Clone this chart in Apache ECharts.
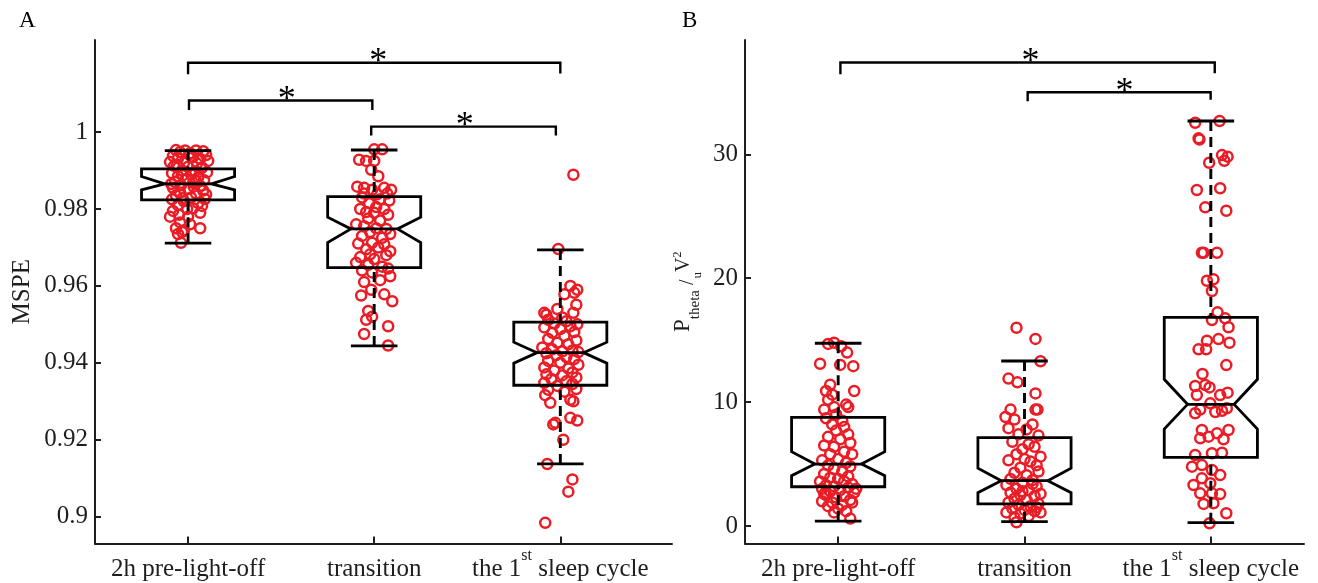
<!DOCTYPE html>
<html>
<head>
<meta charset="utf-8">
<script src="https://cdn.jsdelivr.net/npm/echarts@6/dist/echarts.min.js"></script>
<style>html,body{margin:0;padding:0;background:#fff;}#c{width:1318px;height:583px;}</style>
</head>
<body>
<div id="c"></div>
<script>
// ---------- data ----------
const categories = ['2h pre-light-off', 'transition', 'the 1st sleep cycle'];
const catPositions = [1, 2, 3];
const yTicksA = [0.9, 0.92, 0.94, 0.96, 0.98, 1];
const yTickLabelsA = ['0.9', '0.92', '0.94', '0.96', '0.98', '1'];
const yTicksB = [0, 10, 20, 30];
const yTickLabelsB = ['0', '10', '20', '30'];

// box stats: [category, whiskerLow, q1, notchLow, median, notchHigh, q3, whiskerHigh]
const boxStatsA = [
  [1, 0.97111, 0.98237, 0.98497, 0.98653, 0.98843, 0.99043, 0.99519],
  [2, 0.94440, 0.96476, 0.97126, 0.97482, 0.97787, 0.98322, 0.99533],
  [3, 0.91371, 0.93417, 0.93990, 0.94265, 0.94536, 0.95056, 0.96936]
];
const boxStatsB = [
  [1, 0.40, 3.17, 4.06, 5.00, 6.00, 8.77, 14.75],
  [2, 0.35, 1.78, 2.69, 3.66, 4.66, 7.13, 13.32],
  [3, 0.27, 5.54, 7.83, 9.82, 11.84, 16.84, 32.69]
];

// significance brackets: [xFrom, xTo, yTop, yLegFrom, yLegTo, xStar]
const bracketsA = [
  [1.000, 3.000, 1.0180, 1.0150, 1.0152, 2.022],
  [1.005, 1.990, 1.0082, 1.0057, 1.0057, 1.530],
  [1.984, 2.976, 1.0014, 0.9991, 0.9991, 2.487]
];
const bracketsB = [
  [1.012, 3.021, 37.41, 36.46, 36.55, 2.032],
  [2.017, 2.999, 35.01, 34.29, 34.40, 2.537]
];

// jittered individual points (x offset from category, value)
const a1Jit = [-0.065,-0.016,0.043,0.081,-0.043,0.011,0.097,-0.081,
  -0.054,0.027,0.065,0.108,-0.097,-0.022,0.048,
  -0.075,0,0.075,-0.032,0.038,0.102,-0.086,0.016,
  -0.054,0.054,-0.011,0.086,-0.070,0.027,-0.038,0.065,
  -0.081,0,0.081,-0.043,0.043,-0.065,0.097,0.016,
  -0.086,-0.022,0.054,0.075,-0.054,0.027,
  -0.081,-0.048,0.065,0,-0.097,
  -0.043,0.011,-0.065,0.065,-0.032,-0.054,-0.022,
  -0.038,
  0.005,-0.059,0.070,-0.027,0.043,-0.090,0.030,-0.030,0.090,-0.005];
const a1Val = [0.9953,0.9952,0.9952,0.9950,0.9948,0.9945,0.9940,0.9938,
  0.9932,0.9935,0.9930,0.9925,0.9922,0.9920,0.9918,
  0.9912,0.9910,0.9908,0.9900,0.9898,0.9895,0.9893,0.9890,
  0.9885,0.9882,0.9878,0.9875,0.9870,0.9868,0.9862,0.9860,
  0.9855,0.9852,0.9848,0.9843,0.9840,0.9835,0.9838,0.9830,
  0.9825,0.9820,0.9815,0.9808,0.9810,0.9802,
  0.9795,0.9785,0.9790,0.9780,0.9780,
  0.9765,0.9760,0.9750,0.9750,0.9740,0.9735,0.9745,
  0.9712,
  0.9942,0.9915,0.9905,0.9888,0.9872,0.9865,0.9858,0.9828,0.9826,0.9800];

const a2Jit = [0,0.043,-0.081,-0.043,0,-0.016,0.022,
  -0.091,-0.054,-0.011,0.054,0.091,0.070,0.016,-0.054,
  -0.065,0.032,0.081,-0.027,0.011,-0.075,0.054,-0.043,0,0.075,
  -0.032,0.032,-0.097,-0.054,0.011,0.065,-0.022,0.086,-0.065,0.043,
  -0.086,-0.011,0.054,0.022,-0.043,0.086,-0.022,0.065,-0.075,0,
  -0.097,-0.032,0.043,0.075,-0.065,-0.011,0.086,0.032,-0.054,
  -0.070,-0.016,0.054,0.097,-0.032,-0.011,-0.043,0.075,-0.054,0.075];
const a2Val = [0.9955,0.9955,0.9928,0.9925,0.9925,0.9902,0.9885,
  0.9858,0.9855,0.9850,0.9855,0.9850,0.9840,0.9838,0.9840,
  0.9830,0.9825,0.9822,0.9815,0.9805,0.9800,0.9800,0.9792,0.9790,0.9785,
  0.9775,0.9770,0.9760,0.9755,0.9750,0.9748,0.9740,0.9735,0.9730,0.9725,
  0.9710,0.9712,0.9708,0.9700,0.9695,0.9690,0.9682,0.9680,0.9675,0.9670,
  0.9660,0.9655,0.9650,0.9645,0.9640,0.9635,0.9625,0.9615,0.9610,
  0.9575,0.9590,0.9578,0.9560,0.9535,0.9520,0.9512,0.9495,0.9475,0.9445];

const a3Jit = [0.070,-0.011,
  0.054,0.091,0.075,0.022,0.086,-0.016,-0.086,-0.075,0.070,0.011,
  -0.065,0.032,0.091,-0.032,0.054,-0.086,0,0.075,-0.043,0.022,
  -0.065,0.086,-0.016,0.043,-0.097,-0.043,0.065,0.011,0.097,-0.075,
  -0.022,0.032,0.075,-0.065,0,0.097,-0.086,0.043,-0.032,0.065,
  -0.075,0.011,0.086,-0.048,0.032,-0.086,0.065,-0.016,0.086,-0.065,
  0.022,-0.081,-0.054,0.054,0.070,-0.027,0.054,0.091,-0.038,0.016,
  -0.070,0.065,0.043,-0.081];
const a3Val = [0.9889,0.9696,
  0.9600,0.9590,0.9582,0.9578,0.9551,0.9540,0.9530,0.9525,0.9530,0.9518,
  0.9512,0.9508,0.9500,0.9502,0.9495,0.9492,0.9488,0.9480,0.9478,0.9470,
  0.9462,0.9458,0.9452,0.9448,0.9440,0.9435,0.9432,0.9430,0.9428,0.9425,
  0.9420,0.9415,0.9410,0.9405,0.9400,0.9395,0.9388,0.9385,0.9380,0.9375,
  0.9370,0.9368,0.9362,0.9358,0.9352,0.9348,0.9345,0.9340,0.9332,0.9330,
  0.9325,0.9316,0.9296,0.9304,0.9300,0.9244,0.9257,0.9250,0.9240,0.9200,
  0.9137,0.9097,0.9065,0.8984];

const b1Jit = [-0.054,-0.022,0.016,0.048,-0.097,0.011,0.081,-0.043,-0.065,-0.032,
  0.086,-0.054,-0.075,-0.022,0.043,0.054,-0.011,-0.065,0.022,-0.032,
  0.032,-0.011,0.054,-0.054,0.011,-0.075,0.065,-0.022,0.032,-0.043,
  0.075,-0.086,0,0.043,-0.054,0.065,-0.022,0.022,-0.075,0.054,
  -0.043,0,-0.097,0.032,0.075,-0.065,-0.022,0.054,-0.086,0.011,
  -0.043,0.086,-0.065,0.032,-0.011,0.065,-0.086,-0.032,0.022,-0.054,
  0.075,0,-0.022,0.043,0.065,-0.075,0.097];
const b1Val = [14.7,14.8,14.5,14.0,13.1,13.0,12.9,11.4,10.9,10.6,
  10.9,10.2,9.4,9.6,9.8,9.6,9.0,8.7,8.5,8.2,
  8.0,7.7,7.4,7.2,7.0,6.5,6.7,6.4,6.0,5.8,
  5.8,5.3,5.4,5.1,4.9,4.8,4.6,4.4,4.2,4.0,
  3.9,3.8,3.6,3.6,3.4,3.3,3.2,3.1,3.0,2.9,
  2.8,2.7,2.5,2.4,2.3,2.1,2.0,1.9,1.7,1.6,
  1.9,1.4,1.1,1.2,0.6,2.6,3.0];

const b2Jit = [-0.043,0.059,0.086,-0.086,-0.038,0.059,-0.075,0.059,0.070,-0.102,
  -0.054,0.043,-0.086,0.011,0.075,-0.032,-0.065,0.022,0.054,-0.011,
  -0.043,0.086,0,-0.086,0.032,0.065,-0.022,0.075,-0.054,0.011,
  -0.075,0.043,-0.011,-0.097,0.065,-0.043,0.022,-0.075,0.086,-0.022,
  0.054,-0.054,0.011,-0.086,0.075,-0.032,0.032,-0.065,0,0.054,
  -0.097,-0.022,0.086,0.022,-0.054,-0.043,0.065,-0.011,0.043];
const b2Val = [16.0,15.1,13.3,11.9,11.6,10.7,9.4,9.4,9.4,8.8,
  8.6,8.2,7.9,7.8,7.3,7.4,6.8,6.6,6.4,6.2,
  5.8,5.6,5.4,5.3,5.2,4.9,4.7,4.4,4.3,4.1,
  3.8,3.7,3.5,3.3,3.2,3.0,2.9,2.7,2.6,2.5,
  2.4,2.2,2.1,1.9,1.8,1.7,1.6,1.4,1.3,1.2,
  1.1,1.0,1.1,0.8,0.7,0.3,1.5,2.8,3.4];

const b3Jit = [-0.084,0.047,-0.066,-0.061,0.060,0.090,0.072,-0.009,-0.075,0.050,
  -0.030,0.083,-0.048,-0.039,0.033,-0.021,0.014,0.006,0.036,0.006,
  0.077,0.095,-0.021,0.041,0.100,-0.066,-0.025,0.083,-0.045,-0.084,
  -0.030,-0.007,-0.075,0.050,0.090,-0.084,-0.057,-0.003,0.024,0.060,
  0.086,-0.048,0.095,-0.057,-0.012,0.033,0.068,-0.084,0.006,0.060,
  -0.101,-0.048,0.006,0.050,-0.093,-0.048,-0.003,-0.057,0.006,0.050,
  -0.039,0.014,0.083,-0.007];
const b3Val = [32.55,32.69,31.29,31.2,29.94,29.81,29.48,29.32,27.12,27.26,
  25.72,25.45,22.06,22.06,22.06,19.80,19.91,18.97,17.25,16.63,
  16.76,16.04,14.96,15.09,14.79,14.26,14.26,12.99,12.27,11.30,
  11.38,11.19,10.57,10.57,10.76,9.10,9.4,9.90,9.2,9.3,
  9.5,7.75,7.75,7.08,7.21,7.48,7.00,5.73,5.87,5.92,
  4.79,4.92,4.52,4.12,3.31,3.85,3.45,2.64,2.64,2.58,
  1.78,1.83,1.03,0.22];

// ---------- chart ----------
const FONT = "'Liberation Serif','Times New Roman',serif";
const INK = '#1e1e1e';
const RED = '#ea1d26';

function pts(cat, jit, vals) { return vals.map((v, i) => [cat + jit[i], v]); }

function catFormatter(v) {
  const idx = catPositions.indexOf(Math.round(v));
  if (idx < 0) return '';
  const s = categories[idx].replace(/(\d)(st|nd|rd|th)\b/, '$1}{s|$2}{n|');
  return '{n|' + s + '}';
}
const catRich = {
  n: { fontFamily: FONT, fontSize: 25, color: INK, lineHeight: 44, verticalAlign: 'middle' },
  s: { fontFamily: FONT, fontSize: 16, color: INK, lineHeight: 16, verticalAlign: 'top' }
};
function tickFormatter(ticks, labels) {
  return function (v) {
    for (let i = 0; i < ticks.length; i++) if (Math.abs(ticks[i] - v) < 1e-9) return labels[i];
    return '';
  };
}

const HW = 0.25, NW = 0.125, CW = 0.125;
function renderBox(params, api) {
  const x = api.value(0);
  const wl = api.value(1), q1 = api.value(2), nl = api.value(3), md = api.value(4),
        nh = api.value(5), q3 = api.value(6), wh = api.value(7);
  const P = (dx, v) => api.coord([x + dx, v]);
  const poly = [P(-HW, q3), P(HW, q3), P(HW, nh), P(NW, md), P(HW, nl), P(HW, q1),
                P(-HW, q1), P(-HW, nl), P(-NW, md), P(-HW, nh)];
  const solid = { stroke: '#000', lineWidth: 2.8, fill: 'none' };
  const dashed = { stroke: '#000', lineWidth: 2.9, lineDash: [10, 6] };
  const c = P(0, 0)[0];
  const top = P(0, wh)[1], bot = P(0, wl)[1], q3y = P(0, q3)[1], q1y = P(0, q1)[1];
  const cl = P(-CW, 0)[0], cr = P(CW, 0)[0];
  const mdL = P(-NW, md), mdR = P(NW, md);
  return {
    type: 'group',
    children: [
      { type: 'line', shape: { x1: c, y1: top, x2: c, y2: q3y }, style: dashed },
      { type: 'line', shape: { x1: c, y1: bot, x2: c, y2: q1y }, style: dashed },
      { type: 'line', shape: { x1: cl, y1: top, x2: cr, y2: top }, style: solid },
      { type: 'line', shape: { x1: cl, y1: bot, x2: cr, y2: bot }, style: solid },
      { type: 'polygon', shape: { points: poly }, style: solid },
      { type: 'line', shape: { x1: mdL[0], y1: mdL[1], x2: mdR[0], y2: mdR[1] }, style: solid }
    ]
  };
}
function renderBracket(params, api) {
  const x1 = api.value(0), x2 = api.value(1), yt = api.value(2), y1 = api.value(3), y2 = api.value(4), xs = api.value(5);
  const pl = [api.coord([x1, y1]), api.coord([x1, yt]), api.coord([x2, yt]), api.coord([x2, y2])];
  const sp = api.coord([xs, yt]);
  return {
    type: 'group',
    children: [
      { type: 'polyline', shape: { points: pl }, style: { stroke: '#000', lineWidth: 2.4, fill: 'none' } },
      { type: 'text', x: sp[0], y: sp[1],
        style: { text: '*', fontFamily: FONT, fontSize: 36, fill: '#000', align: 'center', verticalAlign: 'middle' } }
    ]
  };
}

const axisLineStyle = { color: INK, width: 2 };
function xAxisCfg(gi, max) {
  return {
    type: 'value', gridIndex: gi, min: 0.5, max: max,
    axisLine: { show: true, onZero: false, lineStyle: axisLineStyle },
    axisTick: { show: true, inside: true, length: 7, lineStyle: { color: INK, width: 2 }, customValues: catPositions },
    axisLabel: { customValues: catPositions, formatter: catFormatter, rich: catRich, margin: 4 },
    splitLine: { show: false }
  };
}
function yAxisCfg(gi, min, max, ticks, labels, name, gap, rich) {
  return {
    type: 'value', gridIndex: gi, min: min, max: max,
    axisLine: { show: true, onZero: false, lineStyle: axisLineStyle },
    axisTick: { show: true, inside: true, length: 6, lineStyle: { color: INK, width: 2 }, customValues: ticks },
    axisLabel: { customValues: ticks, formatter: tickFormatter(ticks, labels), fontFamily: FONT, fontSize: 25, color: INK, margin: 7 },
    splitLine: { show: false },
    name: name, nameLocation: 'middle', nameGap: gap, nameRotate: 90,
    nameTextStyle: Object.assign({ fontFamily: FONT, fontSize: 25, color: INK }, rich ? { rich: rich } : {})
  };
}

// y-name of panel B: every token centred on one 40px line, shifted by asymmetric padding
const nameRichB = {
  P:   { fontFamily: FONT, fontSize: 23, color: INK, lineHeight: 40, verticalAlign: 'middle' },
  sub: { fontFamily: FONT, fontSize: 15, color: INK, lineHeight: 40, verticalAlign: 'middle', padding: [25, 0, 0, 0] },
  n:   { fontFamily: FONT, fontSize: 20, color: INK, lineHeight: 40, verticalAlign: 'middle', padding: [10, 0, 0, 0] },
  u:   { fontFamily: FONT, fontSize: 13, color: INK, lineHeight: 40, verticalAlign: 'middle', padding: [29, 0, 0, 1] },
  V:   { fontFamily: FONT, fontSize: 20, color: INK, lineHeight: 40, verticalAlign: 'middle', padding: [2, 0, 0, 0] },
  sup: { fontFamily: FONT, fontSize: 12, color: INK, lineHeight: 40, verticalAlign: 'middle', padding: [0, 0, 10, 0] }
};

function scatterCfg(idx, data) {
  return {
    type: 'scatter', xAxisIndex: idx, yAxisIndex: idx, data: data,
    symbol: 'circle', symbolSize: 10, z: 2,
    itemStyle: { color: 'rgba(0,0,0,0)', borderColor: RED, borderWidth: 2.5, opacity: 1 },
    emphasis: { disabled: true }, silent: true
  };
}

const chart = echarts.init(document.getElementById('c'), null, { renderer: 'canvas' });
chart.setOption({
  animation: false,
  backgroundColor: '#fff',
  title: [
    { text: 'A', left: 19, top: 9, padding: 0, textStyle: { fontFamily: FONT, fontSize: 23, fontWeight: 'normal', color: '#000' } },
    { text: 'B', left: 682, top: 9, padding: 0, textStyle: { fontFamily: FONT, fontSize: 23, fontWeight: 'normal', color: '#000' } }
  ],
  grid: [
    { left: 95, right: 646, top: 40, bottom: 39.5, containLabel: false },
    { left: 745, right: 14, top: 40, bottom: 39.5, containLabel: false }
  ],
  xAxis: [xAxisCfg(0, 3.6), xAxisCfg(1, 3.5)],
  yAxis: [
    yAxisCfg(0, 0.89303, 1.02393, yTicksA, yTickLabelsA, 'MSPE', 60, null),
    yAxisCfg(1, -1.412, 39.23, yTicksB, yTickLabelsB, '{P|P}{sub|theta}{n| /}{u|u}{V|V}{sup|2}', 42, nameRichB)
  ],
  series: [
    scatterCfg(0, pts(1, a1Jit, a1Val)),
    scatterCfg(0, pts(2, a2Jit, a2Val)),
    scatterCfg(0, pts(3, a3Jit, a3Val)),
    scatterCfg(1, pts(1, b1Jit, b1Val)),
    scatterCfg(1, pts(2, b2Jit, b2Val)),
    scatterCfg(1, pts(3, b3Jit, b3Val)),
    { type: 'custom', xAxisIndex: 0, yAxisIndex: 0, data: boxStatsA, renderItem: renderBox, z: 3, silent: true },
    { type: 'custom', xAxisIndex: 1, yAxisIndex: 1, data: boxStatsB, renderItem: renderBox, z: 3, silent: true },
    { type: 'custom', xAxisIndex: 0, yAxisIndex: 0, data: bracketsA, renderItem: renderBracket, z: 3, silent: true, clip: false },
    { type: 'custom', xAxisIndex: 1, yAxisIndex: 1, data: bracketsB, renderItem: renderBracket, z: 3, silent: true, clip: false }
  ]
});
</script>
</body>
</html>
